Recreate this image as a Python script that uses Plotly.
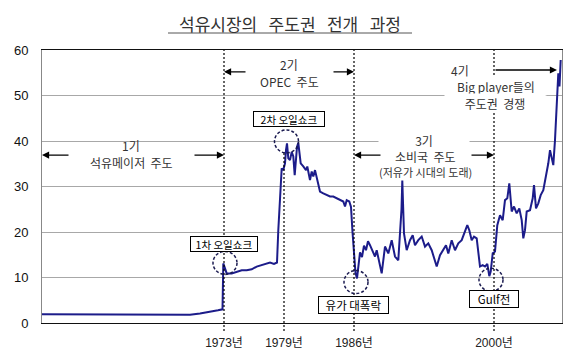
import plotly.graph_objects as go

# ---------------- data ----------------
title_text = "석유시장의   주도권   전개   과정"

years = [1954.8, 1956.6, 1958.1, 1959.1, 1969.6, 1970.6, 1971.6, 1972.4, 1972.85, 1972.93,
         1973.1, 1973.27, 1973.77, 1974.27, 1974.77, 1975.27, 1975.77, 1976.27, 1976.77, 1977.27,
         1977.6, 1978.0, 1978.3, 1978.43, 1978.6, 1978.77, 1978.93, 1979.1, 1979.2, 1979.3,
         1979.43, 1979.6, 1979.77, 1979.93, 1980.07, 1980.2, 1980.3, 1980.43, 1980.53, 1980.67,
         1980.93, 1981.2, 1981.33, 1981.47, 1981.6, 1981.77, 1981.93, 1982.1, 1982.27, 1982.43,
         1982.6, 1982.93, 1983.27, 1983.6, 1983.93, 1984.27, 1984.6, 1984.93, 1985.1, 1985.27,
         1985.53, 1985.7, 1985.85, 1986.0, 1986.15, 1986.3, 1986.45, 1986.6, 1986.8, 1987.0,
         1987.2, 1987.4, 1987.6, 1988.1, 1988.27, 1988.77, 1989.1, 1989.43, 1989.77, 1990.1,
         1990.43, 1990.75, 1990.83, 1991.0, 1991.27, 1991.6, 1991.87, 1992.1, 1992.43, 1992.77,
         1993.1, 1993.43, 1993.77, 1994.1, 1994.27, 1994.6, 1994.93, 1995.2, 1995.43, 1995.77,
         1996.1, 1996.43, 1996.77, 1997.1, 1997.33, 1997.53, 1997.77, 1998.0, 1998.27, 1998.6,
         1998.87, 1999.1, 1999.33, 1999.53, 1999.67, 1999.87, 2000.1, 2000.33, 2000.6, 2000.87,
         2001.1, 2001.33, 2001.53, 2001.77, 2002.0, 2002.27, 2002.53, 2002.77, 2002.93, 2003.1,
         2003.27, 2003.6, 2003.87, 2004.0, 2004.2, 2004.43, 2004.67, 2004.93, 2005.2, 2005.43,
         2005.6, 2005.77, 2005.93, 2006.1, 2006.2, 2006.3, 2006.43, 2006.55, 2006.67]

prices = [1.9, 1.9, 1.85, 1.8, 1.8, 2.1, 2.4, 2.8, 3.0, 13.1,
          12.0, 10.9, 10.9, 11.3, 11.6, 11.6, 11.8, 12.4, 12.7, 13.1,
          13.3, 13.0, 13.3, 20.4, 28.5, 34.0, 33.6, 35.1, 38.0, 39.5,
          36.2, 35.8, 37.6, 36.6, 32.5, 35.5, 38.7, 39.6, 38.0, 35.1,
          34.4, 33.6, 34.4, 32.9, 31.4, 33.3, 32.2, 33.6, 31.8, 30.7,
          28.9, 28.5, 28.1, 27.8, 27.8, 27.4, 27.0, 26.7, 25.6, 27.0,
          26.7, 25.5, 20.0, 14.0, 11.0, 9.8, 13.0, 15.5, 14.5, 17.0,
          16.0, 18.0, 17.1, 14.6, 16.0, 10.9, 16.8, 15.3, 18.2, 14.6,
          13.8, 25.0, 31.3, 19.7, 16.0, 18.2, 19.3, 17.1, 18.2, 19.0,
          16.8, 17.5, 16.0, 13.8, 12.4, 14.9, 16.0, 17.1, 15.3, 18.2,
          16.0, 17.5, 18.2, 20.4, 21.5, 20.4, 18.2, 19.0, 18.6, 12.4,
          12.7, 12.4, 13.0, 10.3, 11.3, 15.3, 15.7, 21.5, 23.7, 22.6,
          27.0, 27.4, 30.7, 24.5, 25.6, 24.1, 25.2, 22.6, 18.6, 20.4,
          24.5, 24.8, 27.4, 30.3, 25.2, 26.3, 28.1, 29.2, 32.1, 35.1,
          38.0, 36.6, 34.7, 40.2, 44.6, 49.0, 54.9, 52.0, 57.8]

tick_years = [1973, 1979, 1986, 2000]
tick_labels = ["1973년", "1979년", "1986년", "2000년"]
y_ticks = [0, 10, 20, 30, 40, 50, 60]

period_heads = ["1기", "2기", "3기", "4기"]
period_texts = ["석유메이저  주도", "OPEC  주도", "소비국  주도", "Big player들의"]
period_extra = ["(저유가 시대의 도래)", "주도권  경쟁"]
event_labels = ["1차 오일쇼크", "2차 오일쇼크", "유가 대폭락", "Gulf전"]

# ---------------- layout ----------------
W, H = 588, 352
L, R, T, B = 42, 26, 50, 29
X0, X1 = 1954.8, 2006.8

def pap_x(px):
    return (px - L) / (W - L - R)

def pap_y(py):
    return (H - B - py) / (H - B - T)

FONT_KR = "Noto Sans CJK KR, Noto Sans, sans-serif"
FONT_LAT = "Liberation Sans, Arial, Noto Sans CJK KR, sans-serif"

fig = go.Figure(go.Scatter(x=years, y=prices, mode="lines",
                           line=dict(color="#1c1c8a", width=2), hoverinfo="skip"))

shapes = []
# dashed period boundary lines
for yr, top in [(tick_years[0], 1.0), (tick_years[1], pap_y(153)),
                (tick_years[2], 1.0), (tick_years[3], 1.0)]:
    shapes.append(dict(type="line", xref="x", yref="paper", x0=yr, x1=yr,
                       y0=pap_y(331), y1=top, layer="above",
                       line=dict(color="black", width=1.2, dash="2px,2px")))
# dashed circles around events
for cx, cy in [(1973.1, 13.2), (1979.25, 39.9), (1986.2, 9.0), (1999.7, 9.5)]:
    shapes.append(dict(type="circle", xref="x", yref="y", xsizemode="pixel",
                       ysizemode="pixel", xanchor=cx, yanchor=cy,
                       x0=-12, x1=12, y0=-11.5, y1=11.5, layer="above",
                       line=dict(color="#1a1a50", width=1.5, dash="3px,2px")))
# title underline
shapes.append(dict(type="line", xref="paper", yref="paper",
                   x0=pap_x(168), x1=pap_x(412), y0=pap_y(33), y1=pap_y(33),
                   line=dict(color="#555555", width=1)))

ann = []
ann.append(dict(text=title_text, xref="paper", yref="paper", x=pap_x(290), y=pap_y(24),
                showarrow=False, xanchor="center", yanchor="middle",
                font=dict(family=FONT_KR, size=17, color="#333333")))

def txt(s, x, y, size=12, **kw):
    ann.append(dict(text=s, x=x, y=y, xref="x", yref="y", showarrow=False,
                    xanchor="center", yanchor="middle",
                    font=dict(family=FONT_KR, size=size, color="#333333"), **kw))

def arrow(head, tail, y):
    ann.append(dict(text="", x=head, y=y, ax=tail, ay=y, xref="x", yref="y",
                    axref="x", ayref="y", showarrow=True, arrowhead=2,
                    arrowsize=1.1, arrowwidth=1.3, arrowcolor="black",
                    standoff=0, startstandoff=0))

# 1기
txt(period_heads[0], 1963.7, 39.0)
txt(period_texts[0], 1963.7, 35.2)
arrow(X0, 1957.6, 36.9)
arrow(tick_years[0], 1969.9, 36.9)
# 2기
txt(period_heads[1], 1979.5, 56.9)
txt(period_texts[1], 1979.5, 53.0)
arrow(tick_years[0], 1975.3, 55.2)
arrow(tick_years[2], 1983.8, 55.2)
# 3기
txt(period_heads[2], 1993.0, 40.2, bgcolor="white", width=88, height=14)
txt(period_texts[2], 1993.1, 36.7)
txt(period_extra[0], 1993.1, 33.2, size=11)
arrow(tick_years[2], 1988.8, 36.9)
arrow(tick_years[3], 1997.6, 36.9)
# 4기
txt(period_heads[3], 1996.6, 55.4)
txt(period_texts[3], 2000.2, 52.1, bgcolor="white", width=98, height=16)
txt(period_extra[1], 2000.1, 48.4, bgcolor="white", width=98, height=16)
arrow(2006.3, tick_years[3], 55.6)

# boxed event labels
for s, x, y, w, h, fs in [(event_labels[0], 1973.0, 17.4, 66, 14, 10.5),
                          (event_labels[1], 1979.5, 44.8, 70, 14, 10.5),
                          (event_labels[2], 1985.9, 3.85, 69, 16, 11.5),
                          (event_labels[3], 2000.0, 5.2, 48, 16, 11.5)]:
    ann.append(dict(text=s, x=x, y=y, xref="x", yref="y", showarrow=False,
                    xanchor="center", yanchor="middle", width=w, height=h,
                    bgcolor="white", bordercolor="black", borderwidth=1, borderpad=0,
                    font=dict(family=FONT_KR, size=fs, color="black")))

fig.update_layout(
    width=W, height=H, margin=dict(l=L, r=R, t=T, b=B, pad=0, autoexpand=False),
    paper_bgcolor="white", plot_bgcolor="white", showlegend=False,
    shapes=shapes, annotations=ann,
    xaxis=dict(range=[X0, X1], tickvals=tick_years, ticktext=tick_labels,
               showgrid=False, zeroline=False, ticks="", showline=True,
               linecolor="#111111", linewidth=1.2, mirror=True,
               ticklabelstandoff=8, automargin=False,
               tickfont=dict(family=FONT_LAT, size=12, color="#222222")),
    yaxis=dict(range=[0, 60], tickvals=y_ticks, showgrid=True, gridcolor="#a8a8a8",
               gridwidth=1, zeroline=False, ticks="", showline=True,
               linecolor="#888888", linewidth=1, mirror=True, ticklabelstandoff=10,
               automargin=False,
               tickfont=dict(family=FONT_LAT, size=13, color="#111111")),
)

fig.write_html("out.html")
